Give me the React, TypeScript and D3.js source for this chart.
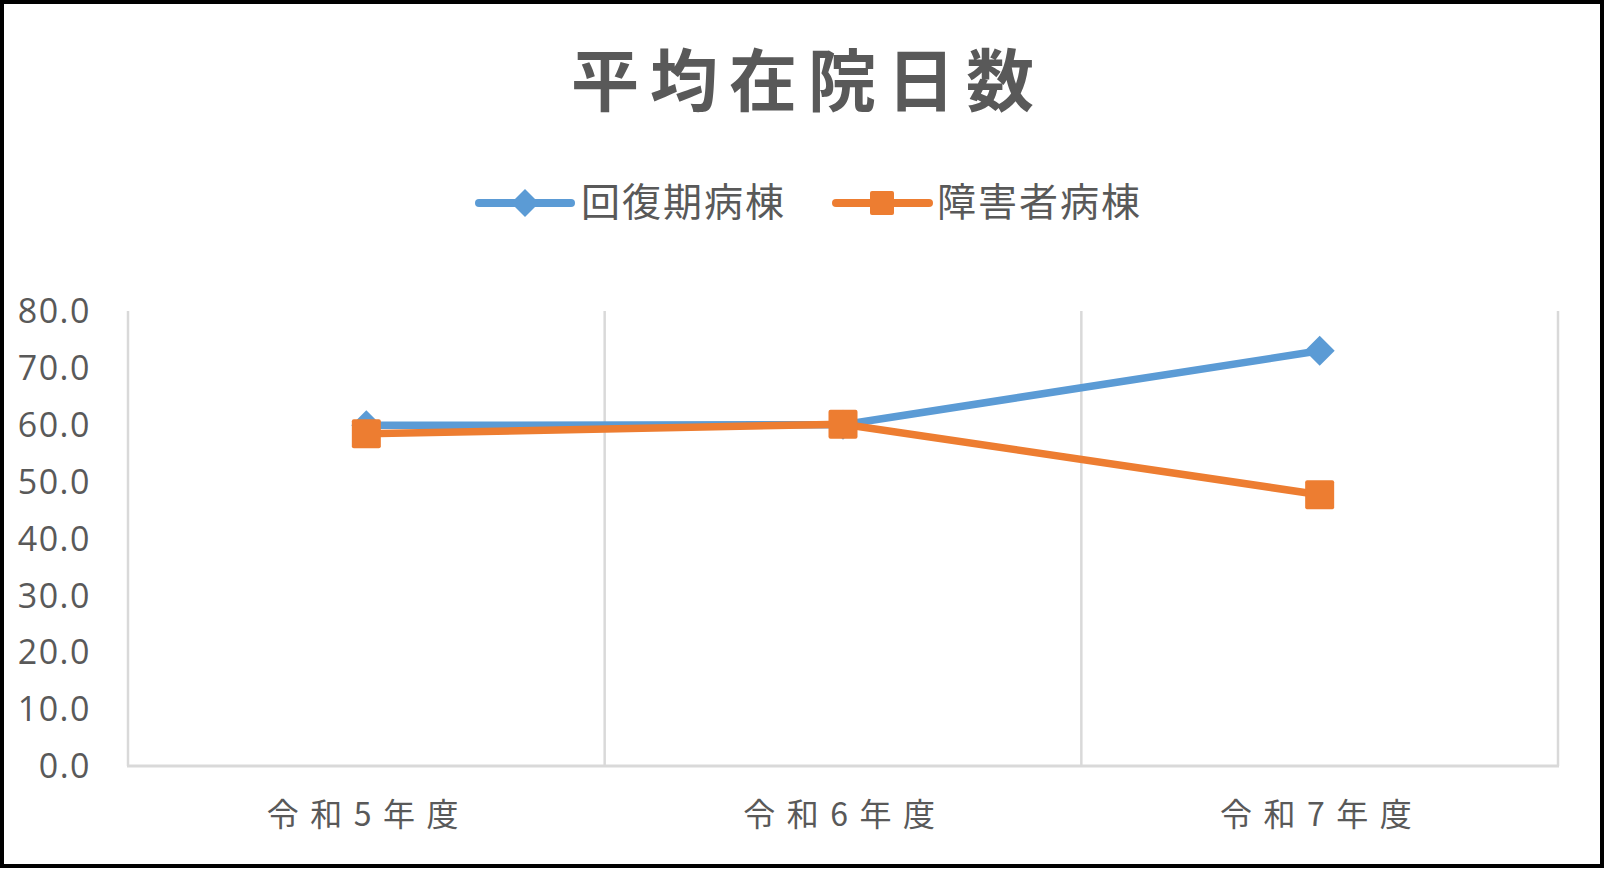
import React from "react";
import * as d3 from "d3";

const categories = ["令和5年度", "令和6年度", "令和7年度"];
const recoveryValues = [59.9, 60.0, 73.0];
const disabilityValues = [58.4, 60.1, 47.7];
const yTicks = [0, 10, 20, 30, 40, 50, 60, 70, 80];
const seriesNames = ["回復期病棟", "障害者病棟"];

const W = 1609;
const H = 869;
const plot = { left: 128, right: 1558, top: 311, bottom: 766 };
const BLUE = "#5B9BD5";
const ORANGE = "#ED7D31";
const TEXT = "#595959";
const GRID = "#D9D9D9";
const CJK = "'Noto Sans CJK JP', 'Noto Sans', sans-serif";

export default function App() {
  const x = d3.scaleBand<string>().domain(categories).range([plot.left, plot.right]).padding(0);
  const y = d3.scaleLinear().domain([0, 80]).range([plot.bottom, plot.top]);
  const cx = (c: string) => (x(c) ?? 0) + x.bandwidth() / 2;

  const line = d3.line<number>()
    .x((_, i) => cx(categories[i]))
    .y(d => y(d));

  const boundaries = [...categories.map(c => x(c) ?? 0), plot.right];

  const diamond = (px: number, py: number, r: number) =>
    `M${px},${py - r}L${px + r},${py}L${px},${py + r}L${px - r},${py}Z`;

  return (
    <svg width={W} height={H} style={{ position: "absolute", left: 0, top: 0, background: "#fff" }}>
      <rect x={0} y={0} width={W} height={H} fill="#fff" />
      <rect x={2} y={2} width={1600} height={864} fill="none" stroke="#000" strokeWidth={4} />

      {/* title */}
      <text x={808} y={106} textAnchor="middle" fontFamily={CJK} fontWeight={700}
        fontSize={68} fill={TEXT} letterSpacing={11}>平均在院日数</text>

      {/* legend */}
      <g>
        <line x1={479} x2={571} y1={203} y2={203} stroke={BLUE} strokeWidth={8} strokeLinecap="round" />
        <path d={diamond(525, 203, 14)} fill={BLUE} />
        <text x={581} y={216} fontFamily={CJK} fontSize={39} fill={TEXT} letterSpacing={2}>{seriesNames[0]}</text>
        <line x1={836} x2={929} y1={203} y2={203} stroke={ORANGE} strokeWidth={8} strokeLinecap="round" />
        <rect x={870} y={191} width={24} height={24} rx={2} fill={ORANGE} />
        <text x={937} y={216} fontFamily={CJK} fontSize={39} fill={TEXT} letterSpacing={2}>{seriesNames[1]}</text>
      </g>

      {/* vertical gridlines */}
      {boundaries.map((bx, i) => (
        <line key={i} x1={bx} x2={bx} y1={y(80)} y2={plot.bottom} stroke={GRID} strokeWidth={2.5} />
      ))}
      <line x1={plot.left - 1} x2={plot.right + 1} y1={plot.bottom} y2={plot.bottom} stroke={GRID} strokeWidth={3} />

      {/* y tick labels */}
      {yTicks.map(t => (
        <text key={t} x={91} y={y(t)} dy="0.36em" textAnchor="end" fontFamily="'Open Sans', sans-serif"
          fontSize={34} fill={TEXT} letterSpacing={1.5}>{t.toFixed(1)}</text>
      ))}

      {/* x labels */}
      {categories.map(c => (
        <text key={c} x={cx(c) + 2} y={826} textAnchor="middle" fontFamily={CJK} fontSize={32}
          fill={TEXT} letterSpacing={11.5}>{c}</text>
      ))}

      {/* series: 回復期病棟 */}
      <path d={line(recoveryValues) ?? ""} fill="none" stroke={BLUE} strokeWidth={7.5} strokeLinejoin="round" />
      {recoveryValues.map((v, i) => (
        <path key={i} d={diamond(cx(categories[i]), y(v), 15)} fill={BLUE} />
      ))}

      {/* series: 障害者病棟 */}
      <path d={line(disabilityValues) ?? ""} fill="none" stroke={ORANGE} strokeWidth={7.5} strokeLinejoin="round" />
      {disabilityValues.map((v, i) => (
        <rect key={i} x={cx(categories[i]) - 14.5} y={y(v) - 14.5} width={29} height={29} rx={2} fill={ORANGE} />
      ))}
    </svg>
  );
}
